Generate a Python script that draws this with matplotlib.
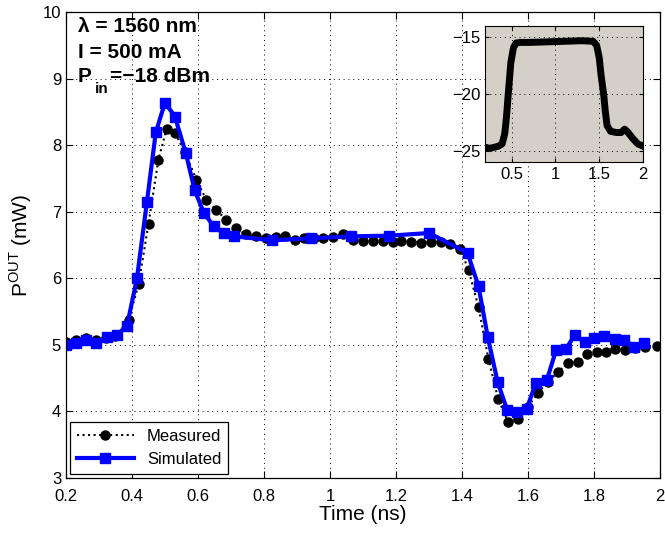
import matplotlib
matplotlib.use("Agg")
import matplotlib.pyplot as plt

plt.rcParams['font.family'] = ['Liberation Sans', 'DejaVu Sans']
plt.rcParams['mathtext.fontset'] = 'custom'
plt.rcParams['mathtext.rm'] = 'Liberation Sans'
plt.rcParams['mathtext.bf'] = 'Liberation Sans:bold'

# Measured output power (mW) vs time (ns)
meas_t = [0.20, 0.23, 0.26, 0.29, 0.32, 0.35, 0.39, 0.42, 0.45, 0.48,
          0.505, 0.53, 0.56, 0.595, 0.625, 0.655, 0.685, 0.715, 0.745, 0.775,
          0.805, 0.835, 0.865, 0.895, 0.92, 0.95, 0.98, 1.01, 1.04, 1.07,
          1.10, 1.13, 1.16, 1.19, 1.215, 1.245, 1.275, 1.305, 1.335, 1.365,
          1.395, 1.42, 1.45, 1.48, 1.51, 1.54, 1.57, 1.60, 1.63, 1.66,
          1.69, 1.72, 1.75, 1.78, 1.81, 1.835, 1.865, 1.895, 1.925, 1.955, 1.99]
meas_p = [5.05, 5.07, 5.10, 5.08, 5.10, 5.13, 5.38, 5.91, 6.82, 7.78,
          8.25, 8.18, 7.90, 7.48, 7.18, 7.03, 6.88, 6.75, 6.66, 6.63,
          6.61, 6.62, 6.63, 6.58, 6.61, 6.61, 6.61, 6.62, 6.66, 6.58,
          6.56, 6.56, 6.56, 6.55, 6.56, 6.55, 6.53, 6.54, 6.55, 6.52,
          6.44, 6.12, 5.57, 4.79, 4.18, 3.84, 3.88, 4.07, 4.28, 4.44,
          4.59, 4.72, 4.74, 4.86, 4.89, 4.90, 4.94, 4.93, 4.96, 4.97, 4.98]

# Simulated output power
sim_t = [0.20, 0.23, 0.26, 0.29, 0.325, 0.355, 0.385, 0.415, 0.445, 0.472,
         0.50, 0.53, 0.563, 0.59, 0.618, 0.648, 0.68, 0.71, 0.825, 0.942,
         1.063, 1.18, 1.30, 1.417, 1.45, 1.478, 1.508, 1.537, 1.568, 1.596,
         1.624, 1.657, 1.685, 1.715, 1.742, 1.773, 1.80, 1.83, 1.864, 1.892,
         1.921, 1.95]
sim_p = [5.00, 5.03, 5.08, 5.03, 5.12, 5.15, 5.29, 6.00, 7.14, 8.19,
         8.64, 8.43, 7.88, 7.32, 6.98, 6.78, 6.68, 6.63, 6.57, 6.60,
         6.63, 6.64, 6.68, 6.38, 5.88, 5.12, 4.44, 4.02, 3.99, 4.04,
         4.43, 4.47, 4.92, 4.94, 5.15, 5.04, 5.10, 5.13, 5.09, 5.08,
         4.97, 5.03]

# Inset: input pulse (dBm) vs time (ns)
inset_t = [0.20, 0.25, 0.30, 0.35, 0.39, 0.42, 0.44, 0.46, 0.49, 0.52,
           0.55, 0.60, 0.70, 0.90, 1.10, 1.30, 1.43, 1.47, 1.50, 1.52,
           1.55, 1.57, 1.59, 1.63, 1.70, 1.75, 1.79, 1.83, 1.88, 1.94, 2.00]
inset_p = [-24.7, -24.8, -24.7, -24.6, -24.4, -23.5, -22.0, -20.0, -17.2, -15.9,
           -15.5, -15.45, -15.45, -15.4, -15.35, -15.3, -15.35, -15.7, -16.8, -18.3,
           -20.0, -21.6, -22.8, -23.3, -23.4, -23.4, -23.1, -23.4, -23.9, -24.4, -24.6]

xticks = [0.2, 0.4, 0.6, 0.8, 1.0, 1.2, 1.4, 1.6, 1.8, 2.0]
xtick_labels = ['0.2', '0.4', '0.6', '0.8', '1', '1.2', '1.4', '1.6', '1.8', '2']
yticks = [3, 4, 5, 6, 7, 8, 9, 10]

W, H = 665, 533
fig = plt.figure(figsize=(W / 100, H / 100), dpi=100)
ax = fig.add_axes([66 / W, 1 - 478 / H, 594 / W, 466 / H])

ax.plot(meas_t, meas_p, linestyle=':', color='black', lw=1.5,
        marker='o', markersize=6.5, markerfacecolor='black',
        markeredgecolor='black', label='Measured')
ax.plot(sim_t, sim_p, linestyle='-', color='#0000ff', lw=3,
        marker='s', markersize=7.5, markerfacecolor='#0000ff',
        markeredgecolor='#0000ff', label='Simulated')

ax.set_xlim(0.2, 2.0)
ax.set_ylim(3, 10)
ax.set_xticks(xticks)
ax.set_xticklabels(xtick_labels)
ax.set_yticks(yticks)
ax.tick_params(direction='in', top=True, right=True, labelsize=12, length=5, width=0.8)
ax.tick_params(axis='x', pad=8)
ax.grid(True, linestyle=(0, (1, 4)), color='black', lw=0.7)
for s in ax.spines.values():
    s.set_linewidth(0.9)

ax.set_xlabel('Time (ns)', fontsize=15, labelpad=1)
ax.set_ylabel(r'P$^{\mathrm{OUT}}$ (mW)', fontsize=15, labelpad=6)

leg = ax.legend(loc='lower left', fontsize=12, fancybox=False, framealpha=1,
                edgecolor='black', borderaxespad=0.25, handlelength=3.4,
                borderpad=0.4, labelspacing=0.5)
leg.get_frame().set_linewidth(0.9)

# annotation text (pixel positions)
def ftxt(x, y, s, **kw):
    fig.text(x / W, 1 - y / H, s, fontweight='bold', va='center', ha='left', **kw)

ftxt(78, 27, 'λ = 1560 nm', fontsize=15)
ftxt(78, 53, 'I = 500 mA', fontsize=15)
ftxt(78, 76, 'P', fontsize=15)
ftxt(95, 89, 'in', fontsize=11)
ftxt(110, 76, '=−18 dBm', fontsize=15)

# inset
axi = fig.add_axes([485.5 / W, 1 - 162 / H, 157.5 / W, 136 / H])
axi.set_facecolor('#d4d0c8')
axi.plot(inset_t, inset_p, color='black', lw=5, solid_joinstyle='round')
axi.set_xlim(0.2, 2.0)
axi.set_ylim(-26, -14)
axi.set_xticks([0.5, 1.0, 1.5, 2.0])
axi.set_xticklabels(['0.5', '1', '1.5', '2'])
axi.set_yticks([-25, -20, -15])
axi.set_yticklabels(['−25', '−20', '−15'])
axi.tick_params(direction='in', top=True, right=True, labelsize=12, length=3, width=0.8)
axi.grid(True, linestyle=(0, (1, 4)), color='black', lw=0.7)

fig.savefig('out.png', dpi=100)
